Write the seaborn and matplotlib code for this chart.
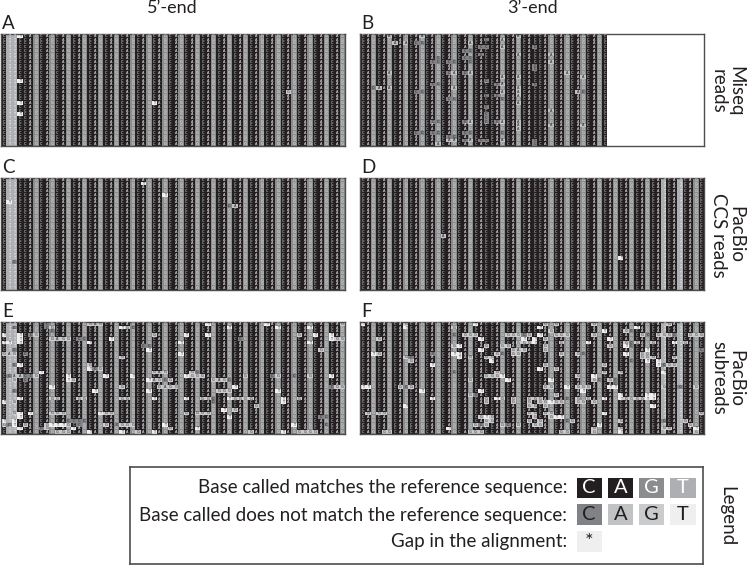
import numpy as np
import matplotlib
matplotlib.use("Agg")
import matplotlib.pyplot as plt
from matplotlib.colors import ListedColormap
import seaborn as sns

W, H = 753, 565

bases = ["C", "A", "G", "T", "c", "a", "g", "t", "*"]
base_colors = ["#231f20", "#231f20", "#8a8c8e", "#adafb2",
               "#808285", "#c0c2c4", "#c9cbcd", "#efefef", "#efefef"]

# reference columns
seq_5 = "CTTC" "CAGCAGCAGCAGCAGCAGCAGCAGCAGCAG" "CAGCAGCAGCAGCAGCAGCAGCAGCAGCAG"
seq_3 = "CAGCAGCAGCAGCAGCAGCAG" "CAC" "CAGCAG" "CAC" "CAGCAGCAGCAGCAGCAGCAG" "CATCAT" "CAG" "C"

# mismatches: row -> "column+base"
mis_A = {0: "3t", 12: "3t", 15: "53g", 18: "3t 28t", 21: "3t"}

mis_B = {0: "5a 11a 29a", 1: "23c 26a", 2: "6a 8a 10c 11c 20a", 3: "22c 23c 26a 32c",
         4: "19c 20c", 5: "22c 29a 35a", 6: "14c 19c 20c", 7: "13c 14c 16c 17c 20c 35a",
         8: "32c", 9: "32c", 10: "5a 16c 17a 19c 20a 38a", 11: "26a 29a 41a", 12: "23c",
         13: "13c 14c 25c 26a 32c", 14: "2c 3a 5a 17a 29a", 15: "10c 11c 26a 29a 40a 41c",
         16: "23c 25c 29a", 17: "16c 17c 26c", 18: "29a", 19: "23c", 20: "35a",
         21: "23c", 22: "23c", 23: "13c 14c 19c 20a 23c 25c 26a 29a", 24: "29a 35a 41a",
         25: "29a", 26: "10c 11c 13c 14c 19c 20c 26c", 27: "16c 17c",
         28: "16a 17a 19c 20a 22c 23c 26a 32c", 29: "14a 32c"}

mis_C = {1: "26t", 4: "30t", 6: "1t", 7: "42c 43a", 22: "2c"}

mis_D = {15: "15a", 21: "48t"}

mis_E = {0: "8c 16g 17a 18g 38t 49t 63g",
         1: "2c 8c 9g 22t 23g 24c 42t 51t 57t",
         2: "9c",
         3: "0t 3t 5c 6g 28g 34t 38t 55g 58t 61t",
         4: "3t 9g 10a 11g 12g 14c 15c 20t 44c 61t 62g 63g",
         5: "0t 1t 3t 16t 33t 57t",
         6: "26c 27c",
         7: "2c 27t 59g",
         8: "0g 1a 2g 4c 33t",
         9: "22g",
         11: "2c 3t 16g",
         12: "16t 17c 18g",
         13: "7t 28g 29a 30g 35g 36c",
         14: "1c 2a 3a 4c 5c 6g 12t 19t 24t 34t 35g 36g 37g 45g 50c 51g 54c 57g 61t",
         15: "2g 4c 12t 13g 27t 28a 29g 30c 31g 39g 40a 41g 42c",
         17: "9t 22g 29g 30a 31g 32g 43t 61c 62g 63g",
         18: "2c 17t 27t 40g 41g 42g 51t",
         20: "3t 9g 10g 14g 15g 22g 23g 28t 34t 37g 38g 39c 42t 43g 44g 45g 46g 52t 55g",
         21: "0t 2g 39c 52t",
         22: "47g",
         23: "41t 43g",
         24: "2g 3t 5t 9g 10g 11g 18t 19g 20g 34g 36g 37g 38g",
         25: "3t 42t 59c 60c",
         26: "0t 2t 12c 13c 14c 15c",
         27: "0g 1c 2t 4g 8g 9t 10t 11t 12g 14c 19g 21c 22g 23g 24g 30t 54t 60c",
         28: "3t 7c 8g 13t 31g 36t",
         29: "10g 11g 12g 16t 22t 25g 28t 46g 52t 55g 56g 57g 58g"}

mis_F = {0: "0t 8g 21t 34g 36g 43g 57g",
         1: "8t 17g 33t 51t",
         2: "35g 45t 49g 50c",
         3: "17c 19g 20g 21g 27g 28g 29g 30c 31g 33t 36g 37g 38g 43g 52g 53c 55g 56g 57g 58c 61g 62g 63g",
         4: "3g 22t 30t 32t 34g 46t",
         5: "29g 30g 31g 32t 37g 42t 49g 50c 51g 54g 58t 60g",
         6: "17g 18t 23g 26g 27g 34g 46g 49t 50c",
         7: "22t 28g 29a 30g 34g 53t 63c",
         8: "2t 3g 13c 17t 18t 25g 26c 28g 29g 37g 40g 41c 49t 52g 53g",
         9: "8g 9c 18t 20g 23g 24g 52g 53g 54g 58g",
         10: "9g 24t 50c 53t 55t",
         11: "13t 34g 45g 55t 56c 57g 58g",
         12: "33t 36g",
         13: "17c 25g 45g 48g 56t",
         14: "23g 24g 25g 26t 40g 43t",
         15: "20g 27t 35t 43g 44c 46g 47c",
         16: "47c",
         17: "0t 1t 7g 8c 9g 34g 35g 38t 40g 41g 42g 46t 47t 56g 59c 62g",
         18: "11t 22t 41t",
         19: "20g 21c 36g 48t 53t 54t",
         20: "13t 23g 25t 26g 28g 31g 32g 33g 38c 40g 42g 45t 48t 49g 50g 51g 52g 53t 54t",
         21: "23g 28g 31g 33g 34g 35t 36g 37g 40g 41g 43g",
         22: "8t 31g 32g 34g 54t",
         24: "1g 3g 4g 31g 32g 34g 35g 45t 63g",
         25: "22g 23t 24g 32g 35g 36t 37t",
         26: "23g 24g 31g 33g 38c 39g 48g 56c 60g",
         27: "21g 22c 23g 26g 27c 29g 32g 33g 44t 61g",
         28: "16t 43g 48g 56g 57g 62t",
         29: "4g 5g 20g 21g 22g 37g 38g 43g 48t 62g"}


def build_cells(seq, mismatches):
    codes = np.array([[bases.index(b) for b in seq]] * 30)
    for row, txt in mismatches.items():
        for item in txt.split():
            codes[row, int(item[:-1])] = bases.index(item[-1])
    return codes


def add_px_axes(fig, x0, y0, x1, y1):
    return fig.add_axes([x0 / W, 1 - y1 / H, (x1 - x0) / W, (y1 - y0) / H])


def draw_cells(ax, codes, mask=None, size=2.5, **kw):
    labels = np.array(bases, dtype=object)[codes]
    labels = np.vectorize(str.upper)(labels.astype(str))
    sns.heatmap(codes, ax=ax, mask=mask, cmap=cmap, vmin=-0.5, vmax=len(bases) - 0.5,
                annot=labels, fmt="", cbar=False, xticklabels=False, yticklabels=False,
                annot_kws={"fontsize": size, "fontfamily": "DejaVu Sans"}, **kw)
    # seaborn picks text colour from luminance, here it goes by base type
    flat = codes.ravel() if mask is None else codes[~mask]
    for t, c in zip(ax.texts, flat):
        t.set_color("white" if c < 4 else "#231f20")


sns.set_theme(style="white")
plt.rcParams["font.family"] = ["Lato", "DejaVu Sans"]
cmap = ListedColormap(base_colors)

fig = plt.figure(figsize=(W / 100, H / 100), dpi=100)

panels = [("A", seq_5, mis_A, 1, 34, 64), ("B", seq_3, mis_B, 360, 34, 46),
          ("C", seq_5, mis_C, 1, 178, 64), ("D", seq_3, mis_D, 360, 178, 64),
          ("E", seq_5, mis_E, 1, 322, 64), ("F", seq_3, mis_F, 360, 322, 64)]

for name, seq, mis, x0, y0, ncol in panels:
    ax = add_px_axes(fig, x0, y0, x0 + 344, y0 + 112)
    codes = build_cells(seq, mis)
    mask = np.zeros(codes.shape, dtype=bool)
    mask[:, ncol:] = True
    draw_cells(ax, codes, mask=mask)
    for s in ax.spines.values():
        s.set_visible(True)
        s.set_color("#4d4d4d")
        s.set_linewidth(1.0)
    fig.text((x0 + 1) / W, 1 - (y0 - 2) / H, name, fontsize=13.5, color="#231f20", va="bottom", ha="left")

ink = "#231f20"
fig.text(172 / W, 1 - 8 / H, "5\u2019-end", fontsize=13, color=ink, ha="center", va="center")
fig.text(532 / W, 1 - 8 / H, "3\u2019-end", fontsize=13, color=ink, ha="center", va="center")

for label, y in [("Miseq\nreads", 91), ("PacBio\nCCS reads", 235), ("PacBio\nsubreads", 378)]:
    fig.text(727 / W, 1 - y / H, label, fontsize=13.5, color=ink, rotation=270,
             ha="center", va="center", linespacing=1.0, multialignment="center")
fig.text(727 / W, 1 - 516 / H, "Legend", fontsize=13.5, color=ink, rotation=270, ha="center", va="center")

# legend box
box = add_px_axes(fig, 130, 467, 703, 564)
box.set_xticks([])
box.set_yticks([])
for s in box.spines.values():
    s.set_visible(True)
    s.set_color("#4d4d4d")
    s.set_linewidth(1.2)

legend_text = ["Base called matches the reference sequence:",
               "Base called does not match the reference sequence:",
               "Gap in the alignment:"]
legend_cells = [["C", "A", "G", "T"], ["c", "a", "g", "t"], ["*", None, None, None]]

for text, y in zip(legend_text, [487, 515, 542]):
    fig.text(567 / W, 1 - y / H, text, fontsize=13.5, color=ink, ha="right", va="center")

leg = add_px_axes(fig, 573.5, 474.5, 698.5, 554.5)
leg_codes = np.array([[bases.index(b) if b else 0 for b in row] for row in legend_cells])
leg_mask = np.array([[b is None for b in row] for row in legend_cells])
sns.heatmap(leg_codes, ax=leg, mask=leg_mask, cmap=cmap, vmin=-0.5, vmax=len(bases) - 0.5,
            cbar=False, xticklabels=False, yticklabels=False, linewidths=3, linecolor="white")
for i, row in enumerate(legend_cells):
    for j, b in enumerate(row):
        if b:
            leg.text(j + 0.5, i + 0.5, b.upper(), ha="center", va="center", fontsize=14.5,
                     color="white" if leg_codes[i, j] < 4 else ink)

fig.savefig("out.png", dpi=100)
